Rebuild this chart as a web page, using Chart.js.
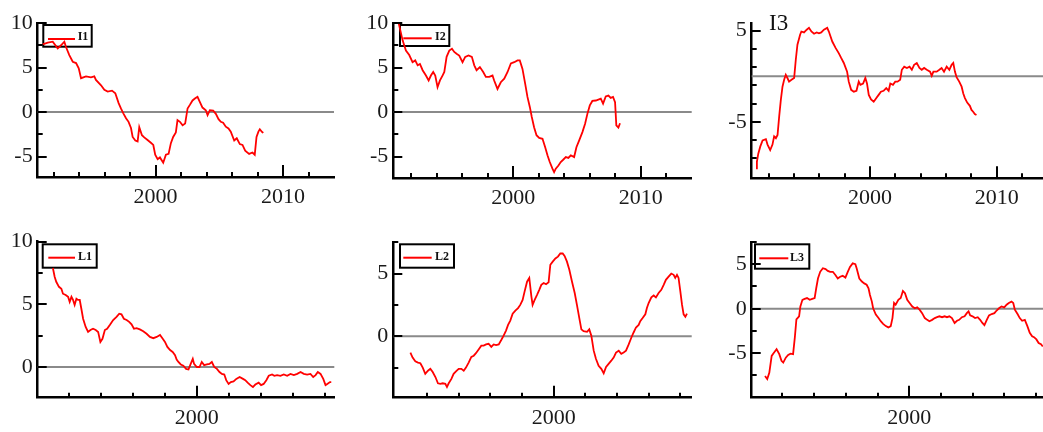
<!DOCTYPE html>
<html>
<head>
<meta charset="utf-8">
<script src="https://cdn.jsdelivr.net/npm/chart.js@4.4.0/dist/chart.umd.min.js"></script>
<style>
  html, body { margin: 0; padding: 0; background: #fff; }
  #wrap { position: relative; width: 1043px; height: 432px; overflow: hidden; background: #fff; }
  #wrap canvas { position: absolute; }
</style>
</head>
<body>
<div id="wrap"></div>
<script>
// ---- series I1 ----
const yearsI1 = [1991.14,1991.54,1991.93,1992.32,1992.58,1992.84,1992.97,1993.23,1993.50,1993.76,
  1993.97,1994.15,1994.54,1994.93,1995.19,1995.32,1995.72,1995.98,1996.24,1996.58,
  1996.84,1997.10,1997.28,1997.47,1997.68,1997.88,1998.07,1998.20,1998.41,1998.59,
  1998.72,1998.93,1999.11,1999.37,1999.63,1999.82,1999.97,2000.16,2000.34,2000.60,
  2000.81,2001.02,2001.20,2001.38,2001.59,2001.72,2001.91,2002.12,2002.32,2002.51,
  2002.69,2002.90,2003.11,2003.29,2003.47,2003.68,2003.94,2004.08,2004.26,2004.52,
  2004.73,2004.94,2005.12,2005.30,2005.51,2005.72,2005.90,2006.17,2006.37,2006.61,
  2006.82,2007.03,2007.34,2007.60,2007.78,2007.92,2008.07,2008.18,2008.39,2008.46];
const valuesI1 = [7.6,7.8,7.9,7.15,7.5,7.9,7.3,6.4,5.65,5.5,
  4.9,3.8,4.0,3.9,4.0,3.6,3.0,2.5,2.3,2.4,
  2.1,1.0,0.4,-0.15,-0.7,-1.1,-1.8,-2.8,-3.2,-3.3,
  -1.7,-2.6,-2.85,-3.15,-3.45,-3.7,-4.8,-5.3,-5.1,-5.7,
  -4.8,-4.7,-3.5,-2.8,-2.3,-0.9,-1.1,-1.5,-1.3,0.4,
  0.8,1.3,1.55,1.7,1.15,0.5,0.2,-0.35,0.2,0.15,
  -0.2,-0.8,-1.1,-1.2,-1.65,-1.85,-2.2,-3.2,-2.95,-3.6,
  -3.7,-4.35,-4.7,-4.55,-4.8,-2.8,-2.2,-1.95,-2.3,-2.25];

// ---- series I2 ----
const yearsI2 = [1991.02,1991.33,1991.59,1991.85,1992.11,1992.32,1992.51,1992.69,1992.90,1993.16,
  1993.37,1993.55,1993.73,1993.89,1994.07,1994.26,1994.46,1994.60,1994.78,1994.99,
  1995.20,1995.38,1995.56,1995.77,1996.03,1996.24,1996.50,1996.76,1996.95,1997.13,
  1997.39,1997.65,1997.86,1998.12,1998.38,1998.51,1998.77,1999.03,1999.30,1999.56,
  1999.82,2000.08,2000.34,2000.52,2000.73,2000.94,2001.12,2001.31,2001.46,2001.64,
  2001.83,2002.04,2002.30,2002.51,2002.69,2002.87,2003.08,2003.21,2003.34,2003.55,
  2003.73,2003.92,2004.13,2004.33,2004.52,2004.78,2004.96,2005.17,2005.43,2005.64,
  2005.82,2006.01,2006.21,2006.48,2006.68,2006.87,2007.05,2007.26,2007.47,2007.65,
  2007.83,2007.99,2008.09,2008.25,2008.38];
const valuesI2 = [10.0,8.05,6.9,6.4,5.6,5.8,5.25,5.4,4.7,4.1,
  3.55,4.1,4.5,4.1,2.8,3.55,4.1,4.5,6.2,6.9,
  7.1,6.75,6.55,6.35,5.6,6.2,6.35,6.2,5.25,4.7,
  5.05,4.5,3.95,3.95,4.1,3.55,2.6,3.35,3.75,4.5,
  5.45,5.6,5.8,5.8,4.85,3.2,1.7,0.55,-0.55,-1.7,
  -2.6,-2.9,-3.0,-3.95,-4.85,-5.6,-6.35,-6.75,-6.35,-6.0,
  -5.6,-5.35,-5.05,-5.15,-4.85,-5.05,-3.95,-3.2,-2.25,-1.3,
  -0.2,0.75,1.25,1.3,1.4,1.5,0.95,1.75,1.85,1.6,
  1.7,1.1,-1.5,-1.75,-1.25];

// ---- series I3 ----
const yearsI3 = [1991.00,1991.07,1991.18,1991.34,1991.52,1991.78,1991.91,1992.12,1992.30,1992.43,
  1992.57,1992.70,1992.83,1992.96,1993.09,1993.22,1993.35,1993.48,1993.61,1993.80,
  1994.01,1994.14,1994.27,1994.48,1994.58,1994.79,1995.00,1995.18,1995.37,1995.58,
  1995.79,1995.97,1996.15,1996.36,1996.62,1996.75,1997.02,1997.28,1997.54,1997.72,
  1997.93,1998.19,1998.32,1998.51,1998.72,1998.93,1999.11,1999.24,1999.45,1999.63,
  1999.76,1999.90,2000.08,2000.29,2000.50,2000.68,2000.86,2001.07,2001.28,2001.47,
  2001.60,2001.81,2001.99,2002.17,2002.38,2002.51,2002.70,2002.91,2003.12,2003.30,
  2003.48,2003.69,2003.90,2004.08,2004.27,2004.48,2004.74,2004.87,2005.00,2005.26,
  2005.47,2005.65,2005.84,2006.05,2006.26,2006.44,2006.57,2006.70,2006.83,2007.04,
  2007.23,2007.36,2007.49,2007.67,2007.88,2008.01,2008.14,2008.27,2008.40];
const valuesI3 = [-10.1,-9.4,-8.5,-7.7,-7.05,-6.9,-7.5,-8.1,-7.5,-6.6,
  -6.8,-6.45,-4.4,-2.6,-1.15,-0.4,0.15,-0.2,-0.6,-0.4,
  -0.2,1.8,3.45,4.55,4.9,4.8,5.1,5.3,4.9,4.65,
  4.8,4.7,4.8,5.1,5.3,4.9,3.8,3.1,2.5,2.0,
  1.45,0.5,-0.6,-1.5,-1.7,-1.6,-0.6,-0.95,-0.8,-0.2,
  -0.8,-2.05,-2.55,-2.8,-2.4,-2.05,-1.7,-1.6,-1.3,-1.6,
  -0.8,-0.95,-0.6,-0.6,-0.4,0.7,1.05,0.9,1.05,0.7,
  1.25,1.45,0.9,0.7,0.9,0.7,0.5,0.05,0.5,0.5,
  0.7,0.9,0.5,1.05,0.7,1.25,1.45,0.5,-0.1,-0.6,
  -1.15,-1.9,-2.4,-2.9,-3.25,-3.7,-3.9,-4.15,-4.25];

// ---- series L1 ----
const yearsL1 = [1991.00,1991.11,1991.21,1991.38,1991.53,1991.63,1991.80,1991.95,1992.05,1992.16,
  1992.26,1992.36,1992.47,1992.57,1992.68,1992.78,1992.89,1993.05,1993.20,1993.35,
  1993.51,1993.68,1993.83,1993.97,1994.10,1994.25,1994.39,1994.56,1994.77,1994.98,
  1995.15,1995.29,1995.44,1995.61,1995.77,1995.92,1996.07,1996.23,1996.44,1996.65,
  1996.86,1997.07,1997.28,1997.49,1997.70,1997.87,1998.01,1998.16,1998.33,1998.49,
  1998.64,1998.74,1998.85,1999.00,1999.16,1999.33,1999.48,1999.62,1999.75,1999.83,
  2000.00,2000.17,2000.31,2000.46,2000.63,2000.79,2000.94,2001.09,2001.26,2001.42,
  2001.57,2001.72,2001.84,2001.99,2002.13,2002.30,2002.47,2002.68,2002.89,2003.03,
  2003.18,2003.35,2003.51,2003.66,2003.87,2004.02,2004.18,2004.35,2004.50,2004.71,
  2004.85,2005.02,2005.23,2005.44,2005.65,2005.86,2006.07,2006.28,2006.49,2006.69,
  2006.90,2007.11,2007.28,2007.43,2007.57,2007.74,2007.91,2008.05,2008.16,2008.33,
  2008.41];
const valuesL1 = [7.9,7.2,6.8,6.4,6.25,5.85,5.75,5.6,5.2,5.6,
  5.35,4.95,5.45,5.35,5.35,4.65,3.85,3.2,2.8,2.95,
  3.05,2.95,2.8,2.0,2.25,2.95,3.05,3.35,3.75,4.0,
  4.25,4.2,3.85,3.75,3.6,3.4,3.05,3.1,3.0,2.85,
  2.65,2.4,2.3,2.4,2.55,2.25,2.0,1.6,1.35,1.2,
  0.95,0.6,0.4,0.2,0.1,-0.15,-0.2,0.25,0.65,0.25,
  0.0,0.0,0.4,0.15,0.2,0.25,0.4,0.0,-0.15,-0.4,
  -0.55,-0.6,-1.05,-1.35,-1.2,-1.15,-0.95,-0.8,-0.95,-1.05,
  -1.25,-1.45,-1.6,-1.4,-1.25,-1.45,-1.35,-1.05,-0.7,-0.6,
  -0.7,-0.65,-0.7,-0.6,-0.7,-0.55,-0.65,-0.55,-0.4,-0.55,
  -0.6,-0.55,-0.8,-0.65,-0.4,-0.55,-0.95,-1.45,-1.35,-1.2,
  -1.2];

// ---- series L2 ----
const yearsL2 = [1990.95,1991.09,1991.26,1991.43,1991.58,1991.73,1991.89,1992.06,1992.21,1992.36,
  1992.53,1992.69,1992.84,1992.99,1993.16,1993.26,1993.37,1993.54,1993.68,1993.83,
  1994.00,1994.17,1994.32,1994.46,1994.63,1994.80,1994.95,1995.09,1995.26,1995.43,
  1995.58,1995.73,1995.89,1996.06,1996.21,1996.36,1996.53,1996.69,1996.84,1996.99,
  1997.12,1997.26,1997.41,1997.58,1997.75,1997.89,1998.04,1998.17,1998.32,1998.46,
  1998.59,1998.67,1998.80,1998.95,1999.09,1999.22,1999.37,1999.52,1999.68,1999.79,
  1999.94,2000.11,2000.27,2000.42,2000.57,2000.69,2000.84,2000.99,2001.16,2001.33,
  2001.47,2001.62,2001.75,2001.89,2002.11,2002.25,2002.38,2002.53,2002.67,2002.84,
  2003.01,2003.16,2003.31,2003.47,2003.64,2003.79,2003.94,2004.11,2004.27,2004.42,
  2004.57,2004.74,2004.91,2005.05,2005.20,2005.37,2005.47,2005.62,2005.79,2005.89,
  2006.00,2006.17,2006.32,2006.46,2006.63,2006.80,2006.95,2007.09,2007.26,2007.43,
  2007.58,2007.68,2007.79,2007.89,2008.00,2008.11,2008.21,2008.32,2008.42];
const valuesL2 = [-1.3,-1.7,-2.0,-2.1,-2.15,-2.5,-3.0,-2.75,-2.6,-2.85,
  -3.25,-3.75,-3.8,-3.75,-3.8,-4.05,-3.75,-3.4,-3.0,-2.8,
  -2.6,-2.6,-2.75,-2.5,-2.1,-1.65,-1.55,-1.35,-1.05,-0.75,
  -0.75,-0.65,-0.6,-0.85,-0.65,-0.7,-0.65,-0.3,0.05,0.45,
  0.9,1.25,1.8,2.05,2.25,2.5,2.9,3.6,4.35,4.65,
  3.2,2.5,2.9,3.3,3.7,4.1,4.25,4.15,4.3,5.7,
  5.95,6.2,6.35,6.6,6.6,6.4,5.95,5.3,4.35,3.45,
  2.5,1.45,0.55,0.4,0.35,0.55,0.05,-1.15,-1.8,-2.35,
  -2.6,-2.95,-2.45,-2.2,-1.95,-1.7,-1.3,-1.15,-1.4,-1.3,
  -1.15,-0.65,-0.1,0.3,0.7,0.9,1.2,1.45,1.75,2.25,
  2.65,3.1,3.25,3.1,3.45,3.7,4.1,4.5,4.75,5.0,
  4.9,4.65,4.9,4.65,3.6,2.5,1.75,1.55,1.8];

// ---- series L3 ----
const yearsL3 = [1990.90,1991.04,1991.17,1991.32,1991.46,1991.63,1991.80,1991.94,1992.05,1992.21,
  1992.36,1992.51,1992.67,1992.78,1992.88,1993.05,1993.13,1993.26,1993.40,1993.55,
  1993.72,1993.88,1994.03,1994.13,1994.24,1994.38,1994.55,1994.72,1994.86,1995.01,
  1995.18,1995.34,1995.49,1995.64,1995.80,1995.97,1996.12,1996.26,1996.43,1996.60,
  1996.68,1996.85,1997.01,1997.16,1997.31,1997.43,1997.52,1997.64,1997.72,1997.89,
  1998.06,1998.20,1998.35,1998.52,1998.68,1998.83,1998.94,1999.04,1999.14,1999.31,
  1999.46,1999.60,1999.73,1999.87,2000.02,2000.19,2000.35,2000.50,2000.65,2000.81,
  2000.98,2001.13,2001.27,2001.44,2001.61,2001.75,2001.90,2002.07,2002.23,2002.38,
  2002.53,2002.69,2002.86,2003.01,2003.15,2003.32,2003.49,2003.63,2003.74,2003.84,
  2003.99,2004.15,2004.32,2004.47,2004.61,2004.74,2004.89,2005.03,2005.20,2005.37,
  2005.51,2005.66,2005.82,2005.99,2006.14,2006.28,2006.45,2006.56,2006.66,2006.83,
  2006.97,2007.12,2007.29,2007.45,2007.60,2007.75,2007.87,2008.02,2008.16,2008.31,
  2008.42];
const valuesL3 = [-7.55,-7.9,-7.2,-5.3,-4.95,-4.55,-5.1,-5.85,-6.05,-5.5,
  -5.2,-5.05,-5.1,-3.25,-1.2,-0.85,0.25,1.0,1.1,1.2,
  1.0,1.1,1.2,2.3,3.4,4.15,4.55,4.45,4.25,4.15,
  4.15,3.8,3.4,3.6,3.7,3.5,4.15,4.7,5.1,5.0,
  4.55,3.4,3.05,2.85,2.7,2.3,1.55,0.8,0.05,-0.65,
  -1.05,-1.4,-1.7,-1.95,-2.1,-1.95,-1.05,0.65,0.45,1.0,
  1.2,2.0,1.75,1.0,0.65,0.25,0.05,0.15,-0.1,-0.5,
  -1.05,-1.25,-1.4,-1.25,-1.05,-0.95,-0.85,-0.95,-0.85,-0.95,
  -0.85,-1.05,-1.6,-1.35,-1.25,-0.95,-0.85,-0.5,-0.3,-0.75,
  -0.85,-1.05,-0.95,-1.25,-1.6,-1.85,-1.25,-0.75,-0.6,-0.5,
  -0.2,0.05,0.25,0.15,0.45,0.65,0.8,0.65,-0.1,-0.6,
  -1.05,-1.35,-1.25,-1.95,-2.7,-3.1,-3.2,-3.45,-3.85,-4.0,
  -4.25];

// ---- axis ticks ----
const xTicksWide = [1992, 1994, 1996, 1998, 2000, 2002, 2004, 2006, 2008, 2010, 2012];
const xTicksNarrow = [1992, 1994, 1996, 1998, 2000, 2002, 2004, 2006, 2008];
const xLabelYears = [2000, 2010];

const yTicksI12 = [-5, -2.5, 0, 2.5, 5, 7.5, 10];
const yLabelsI12 = [-5, 0, 5, 10];
const yTicksI3 = [-9, -7, -5, -3, -1, 1, 3, 5];
const yLabelsI3 = [-5, 5];
const yTicksL1 = [0, 2.5, 5, 7.5, 10];
const yLabelsL1 = [0, 5, 10];
const yTicksL2 = [-2.5, 0, 2.5, 5, 7.5];
const yLabelsL2 = [0, 5];
const yTicksL3 = [-7.5, -5, -2.5, 0, 2.5, 5, 7.5];
const yLabelsL3 = [-5, 0, 5];

// ---- panel layout (page pixels) ----
const panels = [
  { name: 'I1', years: yearsI1, values: valuesI1,
    frame: [0, 0, 347, 216], area: [37.7, 23, 334, 177],
    xRange: [1990.75, 2014], yRange: [-7.3, 10],
    xTicks: xTicksWide, yTicks: yTicksI12, yLabels: yLabelsI12,
    legend: { box: [43.3, 25, 91.7, 46.7], line: [48, 75, 39], text: [77.7, 37] } },
  { name: 'I2', years: yearsI2, values: valuesI2,
    frame: [347, 0, 350, 216], area: [393.3, 23, 691.7, 178],
    xRange: [1990.6, 2014], yRange: [-7.4, 10],
    xTicks: xTicksWide, yTicks: yTicksI12, yLabels: yLabelsI12,
    legend: { box: [400, 25, 449.3, 46], line: [403.3, 431.7, 38.3], text: [435, 37] } },
  { name: 'I3', years: yearsI3, values: valuesI3,
    frame: [697, 0, 363, 216], area: [751.7, 23.3, 1047.4, 178.3],
    xRange: [1990.66, 2014], yRange: [-11.2, 5.8],
    xTicks: xTicksWide, yTicks: yTicksI3, yLabels: yLabelsI3,
    legend: { text: [769, 24], large: true } },
  { name: 'L1', years: yearsL1, values: valuesL1,
    frame: [0, 216, 347, 216], area: [37.7, 241.7, 334.3, 397.7],
    xRange: [1990.05, 2008.6], yRange: [-2.45, 10],
    xTicks: xTicksNarrow, yTicks: yTicksL1, yLabels: yLabelsL1,
    legend: { box: [42.7, 244.3, 96.7, 267.7], line: [48.3, 75, 257.7], text: [78, 257] } },
  { name: 'L2', years: yearsL2, values: valuesL2,
    frame: [347, 216, 350, 216], area: [393.3, 242.2, 691.7, 397.7],
    xRange: [1989.87, 2008.72], yRange: [-4.9, 7.5],
    xTicks: xTicksNarrow, yTicks: yTicksL2, yLabels: yLabelsL2,
    legend: { box: [400, 244.3, 454, 267.7], line: [403.3, 431.7, 257.7], text: [435, 257] } },
  { name: 'L3', years: yearsL3, values: valuesL3,
    frame: [697, 216, 363, 216], area: [751.7, 242, 1045.6, 397.7],
    xRange: [1990.06, 2008.6], yRange: [-10, 7.5],
    xTicks: xTicksNarrow, yTicks: yTicksL3, yLabels: yLabelsL3,
    legend: { box: [755, 244.3, 809.3, 268.7], line: [759.3, 788.3, 258.3], text: [790, 258] } }
];

const SERIF = '"Liberation Serif", "Times New Roman", serif';

// zero line, legend frame, and inward tick marks
const panelDecor = {
  id: 'panelDecor',
  beforeDatasetsDraw(chart, args, opts) {
    const { ctx, chartArea: a, scales: { y } } = chart;
    const [ox, oy] = opts.origin;
    ctx.save();
    const y0 = y.getPixelForValue(0);
    ctx.strokeStyle = '#8a8a8a';
    ctx.lineWidth = 2;
    ctx.beginPath();
    ctx.moveTo(a.left, y0);
    ctx.lineTo(a.right, y0);
    ctx.stroke();

    const lg = opts.legend;
    if (lg.box) {
      const [l, t, r, b] = lg.box;
      ctx.strokeStyle = '#000';
      ctx.lineWidth = 2;
      ctx.strokeRect(l - ox, t - oy, r - l, b - t);
      ctx.strokeStyle = '#ff0000';
      ctx.lineWidth = 2;
      ctx.beginPath();
      ctx.moveTo(lg.line[0] - ox, lg.line[2] - oy);
      ctx.lineTo(lg.line[1] - ox, lg.line[2] - oy);
      ctx.stroke();
    }
    ctx.fillStyle = '#111';
    ctx.textBaseline = 'middle';
    ctx.textAlign = 'left';
    ctx.font = lg.large ? '23px ' + SERIF : 'bold 12px ' + SERIF;
    ctx.fillText(opts.name, lg.text[0] - ox, lg.text[1] - oy);
    ctx.restore();
  },
  afterDraw(chart, args, opts) {
    const { ctx, chartArea: a, scales: { x, y } } = chart;
    ctx.save();
    ctx.strokeStyle = '#000';
    ctx.lineWidth = 2;
    ctx.beginPath();
    x.ticks.forEach(t => {
      const px = Math.round(x.getPixelForValue(t.value));
      const len = xLabelYears.includes(t.value) ? 12 : 5;
      ctx.moveTo(px, a.bottom);
      ctx.lineTo(px, a.bottom - len);
    });
    y.ticks.forEach(t => {
      const py = Math.round(y.getPixelForValue(t.value));
      const len = opts.yLabels.includes(t.value) ? 9 : 5;
      ctx.moveTo(a.left, py);
      ctx.lineTo(a.left + len, py);
    });
    ctx.stroke();
    ctx.restore();
  }
};

const wrap = document.getElementById('wrap');

panels.forEach(p => {
  const [fx, fy, fw, fh] = p.frame;
  const [al, at, ar, ab] = p.area;
  const canvas = document.createElement('canvas');
  canvas.width = fw;
  canvas.height = fh;
  canvas.style.left = fx + 'px';
  canvas.style.top = fy + 'px';
  canvas.style.width = fw + 'px';
  canvas.style.height = fh + 'px';
  wrap.appendChild(canvas);

  const yAxisWidth = al - fx;
  const xAxisHeight = fy + fh - ab;

  new Chart(canvas, {
    type: 'line',
    data: {
      datasets: [{
        label: p.name,
        data: p.years.map((yr, i) => ({ x: yr, y: p.values[i] })),
        borderColor: '#ff0000',
        borderWidth: 1.8,
        pointRadius: 0,
        tension: 0,
        fill: false
      }]
    },
    options: {
      responsive: false,
      animation: false,
      devicePixelRatio: 1,
      layout: { padding: { left: 0, top: at - fy, right: fx + fw - ar, bottom: 0 } },
      plugins: {
        legend: { display: false },
        tooltip: { enabled: false },
        panelDecor: { origin: [fx, fy], legend: p.legend, name: p.name, yLabels: p.yLabels }
      },
      scales: {
        x: {
          type: 'linear',
          min: p.xRange[0],
          max: p.xRange[1],
          afterBuildTicks: s => { s.ticks = p.xTicks.map(v => ({ value: v })); },
          afterFit: s => { s.height = xAxisHeight; },
          grid: { drawOnChartArea: false, drawTicks: false },
          border: { display: true, color: '#000', width: 2.5 },
          ticks: {
            autoSkip: false,
            maxRotation: 0,
            padding: 7,
            color: '#1a1a1a',
            font: { family: SERIF, size: 22 },
            callback: v => (xLabelYears.includes(v) ? String(v) : '')
          }
        },
        y: {
          type: 'linear',
          min: p.yRange[0],
          max: p.yRange[1],
          afterBuildTicks: s => { s.ticks = p.yTicks.map(v => ({ value: v })); },
          afterFit: s => { s.width = yAxisWidth; },
          grid: { drawOnChartArea: false, drawTicks: false },
          border: { display: true, color: '#000', width: 2.5 },
          ticks: {
            autoSkip: false,
            padding: 5,
            color: '#1a1a1a',
            font: { family: SERIF, size: 22 },
            callback: v => (p.yLabels.includes(v) ? String(v) : '')
          }
        }
      }
    },
    plugins: [panelDecor]
  });
});
</script>
</body>
</html>
